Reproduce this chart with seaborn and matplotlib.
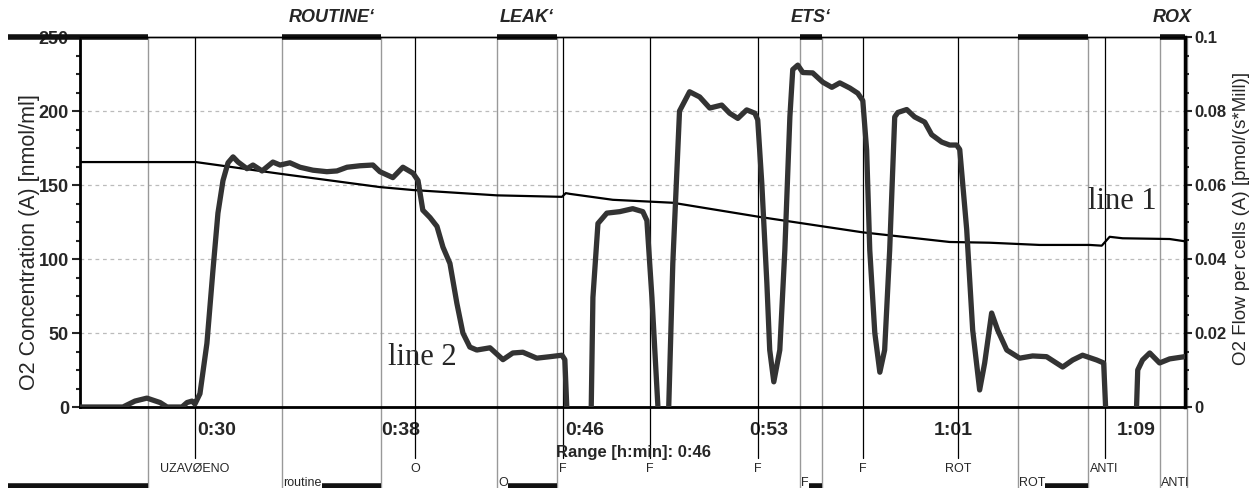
import numpy as np
import pandas as pd
import matplotlib
matplotlib.use("Agg")
import matplotlib.pyplot as plt
import seaborn as sns
from matplotlib.transforms import blended_transform_factory
from matplotlib.ticker import MultipleLocator, FixedLocator

# ---------------- data ----------------
# line 1: O2 concentration [nmol/ml] (left axis), time in minutes
t_conc = [24.69, 29.52, 33.03, 37.19, 38.57, 42.07, 44.78, 44.94, 45.11, 46.9,
          49.4, 53.03, 57.32, 60.94, 62.61, 64.69, 66.78, 67.28, 67.61, 68.15,
          70.11, 70.73]
conc = [165.5, 165.5, 157.6, 148.6, 146.6, 143.0, 142.0, 144.5, 144.0, 140.0,
        138.0, 128.4, 118.0, 111.5, 111.0, 109.5, 109.5, 109.0, 115.0, 114.0,
        113.5, 112.0]

# line 2: O2 flow per cells [pmol/(s*Mill)] (right axis)
t_flow = [24.69, 26.48, 26.98, 27.48, 28.03, 28.32, 28.94, 29.15, 29.36, 29.48,
          29.69, 29.98, 30.23, 30.44, 30.65, 30.86, 31.07, 31.28, 31.65, 31.9,
          32.28, 32.73, 33.03, 33.44, 33.86, 34.4, 34.98, 35.4, 35.82, 36.36,
          36.9, 37.19, 37.73, 38.15, 38.57, 38.78, 38.98, 39.28, 39.57, 39.82,
          40.11, 40.4, 40.65, 40.94, 41.23, 41.78, 42.32, 42.73, 43.15, 43.73,
          44.28, 44.78, 44.9, 44.98, 45.11, 45.86, 46.0, 46.07, 46.28, 46.65,
          47.19, 47.73, 48.15, 48.32, 48.53, 48.78, 48.9, 49.15, 49.23, 49.4,
          49.68, 50.1, 50.52, 50.94, 51.44, 51.77, 52.11, 52.48, 52.82, 52.94,
          53.11, 53.32, 53.44, 53.61, 53.86, 54.07, 54.28, 54.4, 54.61, 54.82,
          55.23, 55.65, 56.03, 56.36, 56.78, 57.11, 57.32, 57.48, 57.61, 57.82,
          58.03, 58.23, 58.44, 58.65, 58.78, 59.15, 59.48, 59.9, 60.19, 60.61,
          60.94, 61.23, 61.36, 61.65, 61.9, 62.19, 62.4, 62.69, 62.94, 63.32,
          63.86, 64.4, 64.98, 65.65, 66.07, 66.48, 67.07, 67.36, 67.44, 67.61,
          68.61, 68.73, 68.78, 68.98, 69.28, 69.69, 70.11, 70.73]
flow = [0.0, 0.0, 0.0016, 0.0024, 0.0012, 0.0, 0.0, 0.0012, 0.0016, 0.0008,
        0.0036, 0.0172, 0.0368, 0.0524, 0.0612, 0.066, 0.0676, 0.0662, 0.0644, 0.0654,
        0.0638, 0.0662, 0.0654, 0.066, 0.0648, 0.064, 0.0636, 0.0638, 0.0648, 0.0652,
        0.0654, 0.0636, 0.062, 0.0648, 0.0632, 0.0612, 0.0532, 0.0512, 0.0488, 0.0432,
        0.0388, 0.028, 0.02, 0.0162, 0.0154, 0.016, 0.0128, 0.0146, 0.0148, 0.0132,
        0.0136, 0.014, 0.0128, 0.0, -0.004, -0.004, 0.0, 0.0296, 0.0496, 0.0524,
        0.0528, 0.0536, 0.0528, 0.0504, 0.0296, 0.0, -0.004, -0.004, 0.0, 0.0388,
        0.08, 0.0852, 0.0838, 0.0808, 0.0816, 0.0794, 0.078, 0.0803, 0.0794, 0.0776,
        0.0604, 0.0336, 0.0154, 0.0068, 0.0154, 0.0424, 0.0784, 0.0912, 0.0924, 0.0904,
        0.0903, 0.0878, 0.0864, 0.0876, 0.0862, 0.0848, 0.0828, 0.0694, 0.0424, 0.02,
        0.0094, 0.0154, 0.0424, 0.0784, 0.0796, 0.0804, 0.0784, 0.077, 0.0736, 0.0716,
        0.0708, 0.0708, 0.0696, 0.048, 0.0208, 0.0046, 0.0119, 0.0254, 0.0208, 0.0154,
        0.0132, 0.0138, 0.0136, 0.0108, 0.0127, 0.014, 0.0127, 0.0119, 0.0, -0.004,
        -0.004, 0.0, 0.01, 0.0127, 0.0146, 0.0119, 0.013, 0.0136]

# x ticks (h:min)
tick_pos = [30.4, 38.07, 45.73, 53.4, 61.07, 68.73]
tick_labels = ["0:30", "0:38", "0:46", "0:53", "1:01", "1:09"]

# events (black lines) with labels
event_t = [29.48, 38.65, 44.82, 48.44, 52.94, 57.32, 61.28, 67.4]
event_labels = ["UZAVØENO", "O", "F", "F", "F", "F", "ROT", "ANTI"]

# marks (grey lines + bars)
mark_start = [21.69, 33.11, 42.07, 54.69, 63.78, 69.69]
mark_end = [27.52, 37.23, 44.57, 55.61, 66.69, 70.85]
mark_top = ["", "ROUTINE‘", "LEAK‘", "ETS‘", "", "ROX"]
mark_bottom = ["", "routine", "O", "F", "ROT", "ANTI"]

xlim = (24.69, 70.75)

# ---------------- plot ----------------
sns.set_style("white")
plt.rcParams['font.family'] = ['Liberation Sans', 'DejaVu Sans']
narrow = ['Liberation Sans Narrow', 'Liberation Sans', 'DejaVu Sans']

fig = plt.figure(figsize=(12.53, 4.88), dpi=100)
ax = fig.add_axes([80 / 1253, 81 / 488, 1105 / 1253, 370 / 488])

df1 = pd.DataFrame({"t": t_conc, "v": conc})
df2 = pd.DataFrame({"t": t_flow, "v": flow})

sns.lineplot(data=df1, x="t", y="v", ax=ax, color="black", linewidth=1.6,
             estimator=None, sort=False, zorder=4)
ax.set_xlim(*xlim)
ax.set_ylim(0, 250)

ax2 = ax.twinx()
sns.lineplot(data=df2, x="t", y="v", ax=ax2, color="#333333", linewidth=3.8,
             estimator=None, sort=False, zorder=5)
ax2.set_ylim(0, 0.1)
ax2.set_xlim(*xlim)

# grid
for yv in [50, 100, 150, 200]:
    ax.axhline(yv, color="#bbbbbb", linestyle=(0, (3, 3)), linewidth=0.9, zorder=1)

# spines
for a in (ax, ax2):
    for s in a.spines.values():
        s.set_color("black")
    a.spines['top'].set_linewidth(1.0)
ax.spines['left'].set_linewidth(2.0)
ax.spines['bottom'].set_linewidth(2.0)
ax2.spines['right'].set_linewidth(2.5)

# ticks
ax.set_xticks(tick_pos)
ax.set_xticklabels(tick_labels)
minor_x = []
step = (tick_pos[1] - tick_pos[0]) / 5
k = tick_pos[0]
while k > xlim[0]:
    k -= step
k += step
while k < xlim[1]:
    minor_x.append(k)
    k += step
ax.xaxis.set_minor_locator(FixedLocator(minor_x))
ax.set_yticks([0, 50, 100, 150, 200, 250])
ax.yaxis.set_minor_locator(MultipleLocator(12.5))
ax2.set_yticks([0, 0.02, 0.04, 0.06, 0.08, 0.1])
ax2.set_yticklabels(["0", "0.02", "0.04", "0.06", "0.08", "0.1"])
ax2.yaxis.set_minor_locator(MultipleLocator(0.005))

ax.tick_params(axis='x', which='major', direction='out', length=7, width=1.5,
               pad=4, labelsize=14)
ax.tick_params(axis='x', which='minor', direction='out', length=4, width=1.5)
ax.tick_params(axis='y', which='major', direction='out', length=6, width=1.5,
               pad=2, labelsize=13)
ax.tick_params(axis='y', which='minor', direction='out', length=3, width=1.5)
ax2.tick_params(axis='y', which='major', direction='out', length=5, width=1.5,
                pad=1.5, labelsize=12)
ax2.tick_params(axis='y', which='minor', direction='out', length=3, width=1.5)
for lab in ax.get_xticklabels() + ax.get_yticklabels() + ax2.get_yticklabels():
    lab.set_family(narrow)
    lab.set_fontweight("bold")

ax.set_xlabel("")
ax.set_ylabel("O2 Concentration (A) [nmol/ml]", fontsize=15.5)
ax.yaxis.set_label_coords(-0.036, 0.446)
ax2.set_ylabel("O2 Flow per cells (A) [pmol/(s*Mill)]", fontsize=13.5,
               rotation=90)
ax2.yaxis.set_label_coords(1.043, 0.51)

trans = blended_transform_factory(ax.transData, ax.transAxes)

# black event lines and labels
for t, lab in zip(event_t, event_labels):
    ax.plot([t, t], [-0.138, 1.0], transform=trans, color="black",
            linewidth=0.9, clip_on=False, zorder=3)
    ax.text(t, -0.168, lab, transform=trans, ha="center", va="center",
            fontsize=9, family=narrow)

# grey mark lines, bars and labels
fig.canvas.draw()
renderer = fig.canvas.get_renderer()
inv = ax.transData.inverted()
for s, e, top, bot in zip(mark_start, mark_end, mark_top, mark_bottom):
    for xv in (s, e):
        if xlim[0] <= xv:
            ax.plot([xv, xv], [-0.222, 1.0], transform=trans, color="#999999",
                    linewidth=1.0, clip_on=False, zorder=2)
    ax.plot([s, min(e, xlim[1])], [1.0, 1.0], transform=trans, color="#111111",
            linewidth=4.0, solid_capstyle="butt", clip_on=False, zorder=6)
    if top:
        ax.text((s + min(e, xlim[1])) / 2, 1.052, top, transform=trans,
                ha="center", va="center", fontsize=13, fontweight="bold",
                fontstyle="italic")
    bar_start = s
    if bot:
        txt = ax.text(s + 0.05, -0.205, bot, transform=trans, ha="left",
                      va="center", fontsize=9, family=narrow)
        bb = txt.get_window_extent(renderer)
        bar_start = inv.transform((bb.x1, 0))[0]
    if bar_start < min(e, xlim[1]) - 0.1:
        ax.plot([bar_start, min(e, xlim[1])], [-0.213, -0.213], transform=trans,
                color="#111111", linewidth=4.0, solid_capstyle="butt",
                clip_on=False, zorder=6)

# range text
fig.text(633 / 1253, 1 - 453 / 488, "Range [h:min]: 0:46", ha="center",
         va="center", fontsize=12, fontweight="bold")

# annotations
ax.text(66.69, 133.8, "line 1", fontsize=22, family=['Liberation Serif', 'DejaVu Serif'],
        va="baseline", ha="left", zorder=7)
ax.text(37.52, 28.4, "line 2", fontsize=22, family=['Liberation Serif', 'DejaVu Serif'],
        va="baseline", ha="left", zorder=7)

fig.savefig("out.png", dpi=100)
